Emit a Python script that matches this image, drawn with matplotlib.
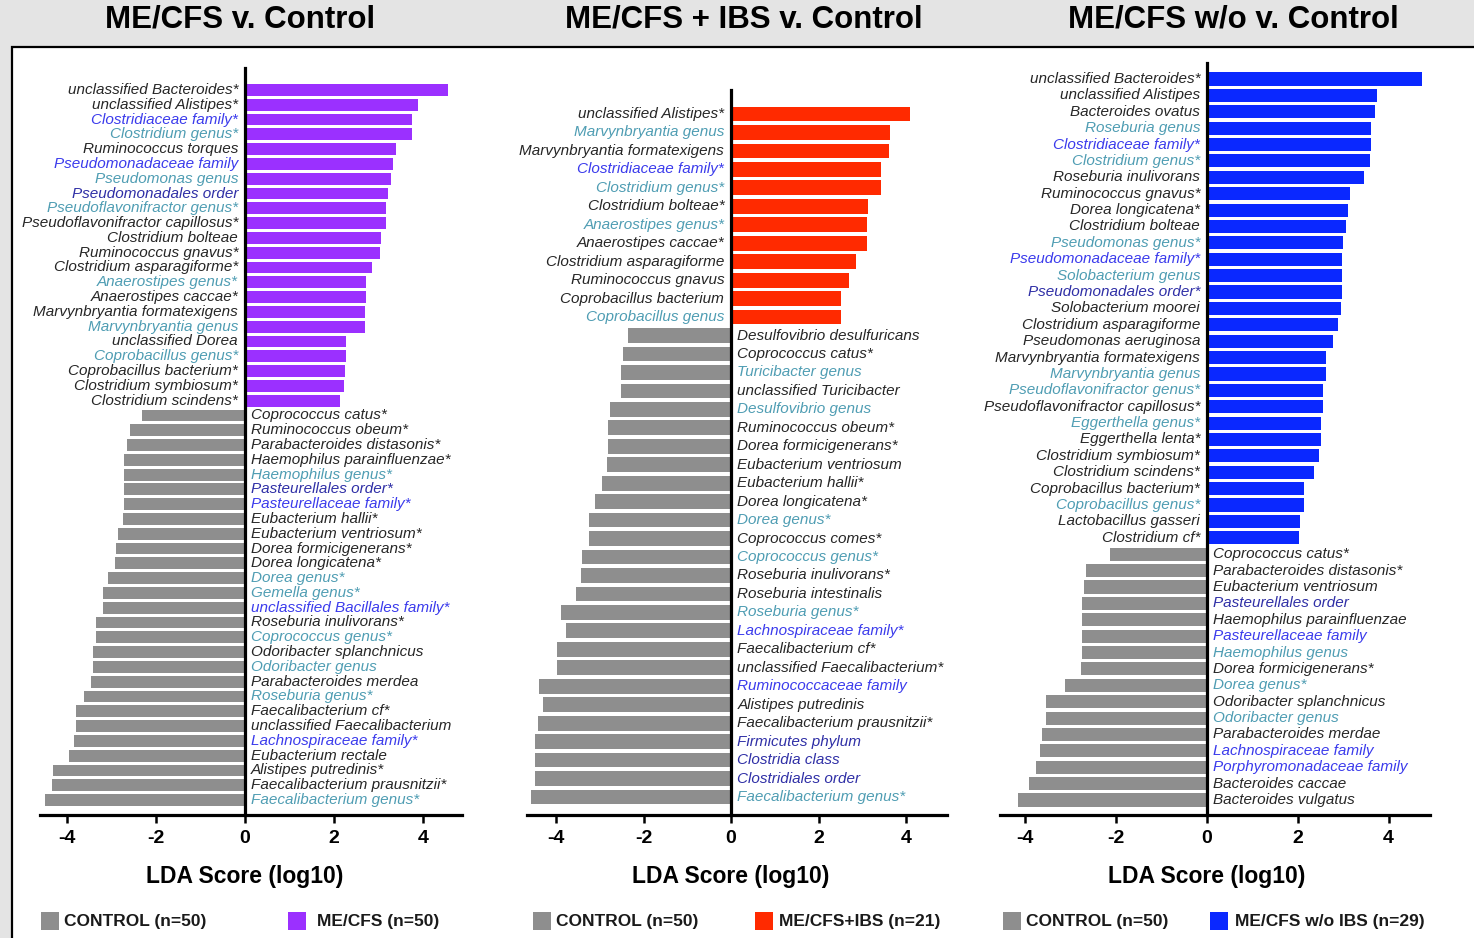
import matplotlib.pyplot as plt
from matplotlib.patches import Rectangle

plt.rcParams['font.family'] = ['Liberation Sans', 'DejaVu Sans']
plt.rcParams['axes.unicode_minus'] = False

# ---- LEfSe LDA scores, one block per comparison ----
# ME/CFS v. Control
mecfs_taxa = ['unclassified Bacteroides*', 'unclassified Alistipes*', 'Clostridiaceae family*',
              'Clostridium genus*', 'Ruminococcus torques', 'Pseudomonadaceae family',
              'Pseudomonas genus', 'Pseudomonadales order', 'Pseudoflavonifractor genus*',
              'Pseudoflavonifractor capillosus*', 'Clostridium bolteae', 'Ruminococcus gnavus*',
              'Clostridium asparagiforme*', 'Anaerostipes genus*', 'Anaerostipes caccae*',
              'Marvynbryantia formatexigens', 'Marvynbryantia genus', 'unclassified Dorea',
              'Coprobacillus genus*', 'Coprobacillus bacterium*', 'Clostridium symbiosum*',
              'Clostridium scindens*']
mecfs_lda = [4.56, 3.88, 3.75, 3.74, 3.39, 3.33, 3.27, 3.20, 3.16, 3.16, 3.05, 3.03,
             2.86, 2.71, 2.71, 2.70, 2.70, 2.26, 2.26, 2.25, 2.22, 2.14]
ctrl1_taxa = ['Coprococcus catus*', 'Ruminococcus obeum*', 'Parabacteroides distasonis*',
              'Haemophilus parainfluenzae*', 'Haemophilus genus*', 'Pasteurellales order*',
              'Pasteurellaceae family*', 'Eubacterium hallii*', 'Eubacterium ventriosum*',
              'Dorea formicigenerans*', 'Dorea longicatena*', 'Dorea genus*', 'Gemella genus*',
              'unclassified Bacillales family*', 'Roseburia inulivorans*', 'Coprococcus genus*',
              'Odoribacter splanchnicus', 'Odoribacter genus', 'Parabacteroides merdea',
              'Roseburia genus*', 'Faecalibacterium cf*', 'unclassified Faecalibacterium',
              'Lachnospiraceae family*', 'Eubacterium rectale', 'Alistipes putredinis*',
              'Faecalibacterium prausnitzii*', 'Faecalibacterium genus*']
ctrl1_lda = [-2.31, -2.58, -2.65, -2.72, -2.72, -2.72, -2.72, -2.74, -2.85, -2.90, -2.92,
             -3.07, -3.18, -3.19, -3.34, -3.35, -3.42, -3.42, -3.45, -3.61, -3.80, -3.79,
             -3.84, -3.94, -4.30, -4.34, -4.48]

# ME/CFS + IBS v. Control
ibs_taxa = ['unclassified Alistipes*', 'Marvynbryantia genus', 'Marvynbryantia formatexigens',
            'Clostridiaceae family*', 'Clostridium genus*', 'Clostridium bolteae*',
            'Anaerostipes genus*', 'Anaerostipes caccae*', 'Clostridium asparagiforme',
            'Ruminococcus gnavus', 'Coprobacillus bacterium', 'Coprobacillus genus']
ibs_lda = [4.10, 3.64, 3.62, 3.43, 3.43, 3.13, 3.10, 3.11, 2.85, 2.70, 2.52, 2.52]
ctrl2_taxa = ['Desulfovibrio desulfuricans', 'Coprococcus catus*', 'Turicibacter genus',
              'unclassified Turicibacter', 'Desulfovibrio genus', 'Ruminococcus obeum*',
              'Dorea formicigenerans*', 'Eubacterium ventriosum', 'Eubacterium hallii*',
              'Dorea longicatena*', 'Dorea genus*', 'Coprococcus comes*', 'Coprococcus genus*',
              'Roseburia inulivorans*', 'Roseburia intestinalis', 'Roseburia genus*',
              'Lachnospiraceae family*', 'Faecalibacterium cf*',
              'unclassified Faecalibacterium*', 'Ruminococcaceae family',
              'Alistipes putredinis', 'Faecalibacterium prausnitzii*', 'Firmicutes phylum',
              'Clostridia class', 'Clostridiales order', 'Faecalibacterium genus*']
ctrl2_lda = [-2.36, -2.47, -2.52, -2.52, -2.77, -2.81, -2.81, -2.84, -2.95, -3.11, -3.25,
             -3.25, -3.41, -3.44, -3.56, -3.90, -3.77, -3.99, -3.99, -4.39, -4.31, -4.42,
             -4.48, -4.48, -4.48, -4.57]

# ME/CFS w/o IBS v. Control
noibs_taxa = ['unclassified Bacteroides*', 'unclassified Alistipes', 'Bacteroides ovatus',
              'Roseburia genus', 'Clostridiaceae family*', 'Clostridium genus*',
              'Roseburia inulivorans', 'Ruminococcus gnavus*', 'Dorea longicatena*',
              'Clostridium bolteae', 'Pseudomonas genus*', 'Pseudomonadaceae family*',
              'Solobacterium genus', 'Pseudomonadales order*', 'Solobacterium moorei',
              'Clostridium asparagiforme', 'Pseudomonas aeruginosa',
              'Marvynbryantia formatexigens', 'Marvynbryantia genus',
              'Pseudoflavonifractor genus*', 'Pseudoflavonifractor capillosus*',
              'Eggerthella genus*', 'Eggerthella lenta*', 'Clostridium symbiosum*',
              'Clostridium scindens*', 'Coprobacillus bacterium*', 'Coprobacillus genus*',
              'Lactobacillus gasseri', 'Clostridium cf*']
noibs_lda = [4.74, 3.74, 3.70, 3.61, 3.60, 3.58, 3.45, 3.14, 3.11, 3.05, 3.00, 2.98, 2.97,
             2.97, 2.96, 2.89, 2.77, 2.63, 2.62, 2.56, 2.56, 2.52, 2.52, 2.47, 2.36, 2.14,
             2.14, 2.05, 2.03]
ctrl3_taxa = ['Coprococcus catus*', 'Parabacteroides distasonis*', 'Eubacterium ventriosum',
              'Pasteurellales order', 'Haemophilus parainfluenzae', 'Pasteurellaceae family',
              'Haemophilus genus', 'Dorea formicigenerans*', 'Dorea genus*',
              'Odoribacter splanchnicus', 'Odoribacter genus', 'Parabacteroides merdae',
              'Lachnospiraceae family', 'Porphyromonadaceae family', 'Bacteroides caccae',
              'Bacteroides vulgatus']
ctrl3_lda = [-2.14, -2.67, -2.72, -2.75, -2.75, -2.75, -2.75, -2.77, -3.13, -3.55, -3.55,
             -3.63, -3.68, -3.77, -3.92, -4.16]

titles = ['ME/CFS v. Control', 'ME/CFS + IBS v. Control', 'ME/CFS w/o v. Control']
case_labels = ['ME/CFS (n=50)', 'ME/CFS+IBS (n=21)', 'ME/CFS w/o IBS (n=29)']
control_label = 'CONTROL (n=50)'

CTRL_COLOR = '#8e8e8e'
CASE_COLORS = ['#9b30ff', '#ff2a00', '#0a28ff']
TEXT_DARK = '#262626'
GENUS_COLOR = '#4f9db3'
FAMILY_COLOR = '#3b3bec'
HIGHER_COLOR = '#2f2fa6'


def taxon_color(name):
    # rank word is the last word of the label
    rank = name.rstrip('*').split()[-1]
    if rank == 'genus':
        return GENUS_COLOR
    if rank == 'family':
        return FAMILY_COLOR
    if rank in ('order', 'class', 'phylum'):
        return HIGHER_COLOR
    return TEXT_DARK


W, H = 1474, 938
fig = plt.figure(figsize=(W / 100, H / 100), dpi=100, facecolor='#e4e4e4')

# white framed area under the three panels
fig.add_artist(Rectangle((12 / W, -0.1), 1.2, 1 - 47 / H + 0.1, transform=fig.transFigure,
                         facecolor='white', edgecolor='black', lw=1.6, zorder=-1))

# pixel layout of each panel: left, right, top, bottom, first/last bar centre, xlim,
# title centre, legend square / text positions
layouts = [
    dict(l=40, r=462, t=68, b=815, y0=90, y1=800, xlim=(-4.6, 4.87), tx=240,
         leg=[(41, 64), (288, 317)]),
    dict(l=527, r=947, t=90, b=815, y0=114, y1=797, xlim=(-4.67, 4.94), tx=744,
         leg=[(533, 556), (755, 779)]),
    dict(l=1000, r=1430, t=63, b=815, y0=79, y1=800, xlim=(-4.56, 4.91), tx=1233,
         leg=[(1003, 1026), (1210, 1235)]),
]
panels = [(mecfs_taxa, mecfs_lda, ctrl1_taxa, ctrl1_lda),
          (ibs_taxa, ibs_lda, ctrl2_taxa, ctrl2_lda),
          (noibs_taxa, noibs_lda, ctrl3_taxa, ctrl3_lda)]

for k, (lay, (ct, cv, nt, nv)) in enumerate(zip(layouts, panels)):
    ax = fig.add_axes([lay['l'] / W, 1 - lay['b'] / H, (lay['r'] - lay['l']) / W,
                       (lay['b'] - lay['t']) / H])
    ax.patch.set_alpha(0)

    taxa = ct + nt
    lda = cv + nv
    ypos = list(range(len(taxa)))
    colors = [CASE_COLORS[k]] * len(ct) + [CTRL_COLOR] * len(nt)
    ax.barh(ypos, lda, height=0.8, color=colors, edgecolor='none', zorder=1)

    spacing = (lay['y1'] - lay['y0']) / (len(taxa) - 1)
    ax.set_ylim((lay['b'] - lay['y0']) / spacing, -(lay['y0'] - lay['t']) / spacing)
    ax.set_xlim(*lay['xlim'])

    for y, name, v in zip(ypos, taxa, lda):
        off, ha = (-5, 'right') if v > 0 else (4.5, 'left')
        ax.annotate(name, xy=(0, y), xytext=(off, 0), textcoords='offset points',
                    ha=ha, va='center', fontsize=11, style='italic',
                    color=taxon_color(name), zorder=3)

    for s in ['top', 'right']:
        ax.spines[s].set_visible(False)
    ax.spines['left'].set_position(('data', 0))
    ax.spines['left'].set_linewidth(2.3)
    ax.spines['left'].set_zorder(4)
    ax.spines['bottom'].set_linewidth(2.3)
    ax.set_yticks([])
    ax.set_xticks([-4, -2, 0, 2, 4])
    ax.tick_params(axis='x', direction='out', length=6, width=1.8, pad=5, labelsize=14)
    for lbl in ax.get_xticklabels():
        lbl.set_fontweight('bold')

    ax.annotate('LDA Score (log10)', xy=(0, 0), xycoords=('data', 'axes fraction'),
                xytext=(0, -44), textcoords='offset points', ha='center', va='center',
                fontsize=16.5, fontweight='bold')

    fig.text(lay['tx'] / W, 1 - 20 / H, titles[k], ha='center', va='center',
             fontsize=22.5, fontweight='bold')

    # legend row
    for (sq_x, txt_x), col, lab in zip(lay['leg'], [CTRL_COLOR, CASE_COLORS[k]],
                                       [control_label, case_labels[k]]):
        fig.add_artist(Rectangle((sq_x / W, 1 - 930 / H), 18 / W, 18 / H,
                                 transform=fig.transFigure, facecolor=col,
                                 edgecolor='none'))
        fig.text(txt_x / W, 1 - 921 / H, lab, ha='left', va='center', fontsize=12.5,
                 fontweight='bold', color='#1a1a1a')

fig.savefig('out.png', dpi=100, facecolor=fig.get_facecolor())
